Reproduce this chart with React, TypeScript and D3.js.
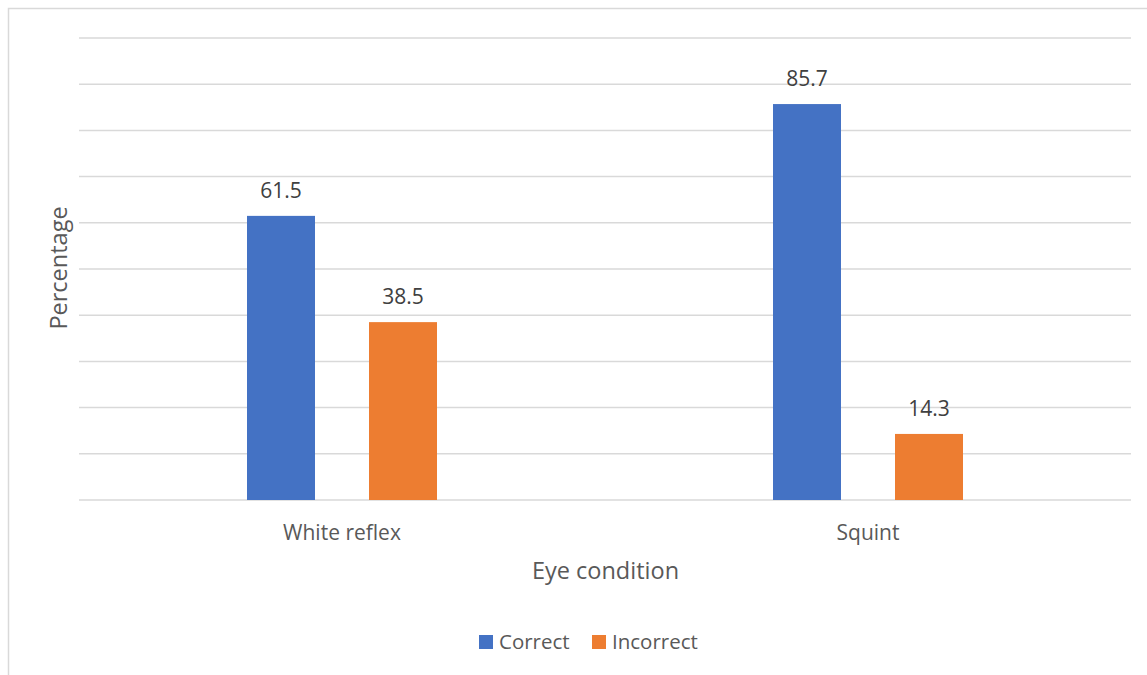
import React from "react";
import * as d3 from "d3";

const categories = ["White reflex", "Squint"];
const seriesNames = ["Correct", "Incorrect"];
const correctValues = [61.5, 85.7];
const incorrectValues = [38.5, 14.3];
const gridTicks = [0, 10, 20, 30, 40, 50, 60, 70, 80, 90, 100];
const colors = ["#4472C4", "#ED7D31"];

const W = 1147;
const H = 675;
const plotLeft = 79;
const plotRight = 1131;
const plotTop = 38;
const plotBottom = 500;
const FONT = "Open Sans, sans-serif";

export default function App() {
  const x0 = d3.scaleBand<string>().domain(categories).range([plotLeft, plotRight]).paddingInner(0).paddingOuter(0);
  const y = d3.scaleLinear().domain([0, 100]).range([plotBottom, plotTop]);
  const series = [correctValues, incorrectValues];
  const barW = 68;
  const gap = 54;

  return (
    <svg width={W} height={H} style={{ position: "absolute", left: 0, top: 0 }}>
      <rect x={0} y={0} width={W} height={H} fill="#fff" />
      <rect x={8.5} y={8.5} width={W + 10} height={H + 10} fill="#fff" stroke="#d9d9d9" strokeWidth={1.5} />
      {gridTicks.map((t) => (
        <line key={t} x1={plotLeft} x2={plotRight} y1={y(t)} y2={y(t)} stroke="#d9d9d9" strokeWidth={1.5} />
      ))}
      {categories.map((c, ci) => {
        const center = (x0(c) as number) + x0.bandwidth() / 2;
        return (
          <g key={c}>
            {series.map((vals, si) => {
              const bx = si === 0 ? center - gap / 2 - barW : center + gap / 2;
              const v = vals[ci];
              return (
                <g key={si}>
                  <rect x={bx} y={y(v)} width={barW} height={plotBottom - y(v)} fill={colors[si]} />
                  <text x={bx + barW / 2} y={y(v) - 18} textAnchor="middle" fontFamily={FONT} fontSize={21} fill="#404040">
                    {v.toFixed(1)}
                  </text>
                </g>
              );
            })}
            <text x={center} y={540} textAnchor="middle" fontFamily={FONT} fontSize={21} fill="#595959">
              {c}
            </text>
          </g>
        );
      })}
      <text x={(plotLeft + plotRight) / 2 + 0.5} y={579} textAnchor="middle" fontFamily={FONT} fontSize={23.5} fill="#595959">
        Eye condition
      </text>
      <text transform={`translate(67,268) rotate(-90)`} textAnchor="middle" fontFamily={FONT} fontSize={23.5} fill="#595959">
        Percentage
      </text>
      {seriesNames.map((n, i) => {
        const lx = i === 0 ? 479 : 592;
        return (
          <g key={n}>
            <rect x={lx} y={635} width={14} height={14} fill={colors[i]} />
            <text x={lx + 20} y={649} fontFamily={FONT} fontSize={20.5} fill="#595959">
              {n}
            </text>
          </g>
        );
      })}
    </svg>
  );
}
